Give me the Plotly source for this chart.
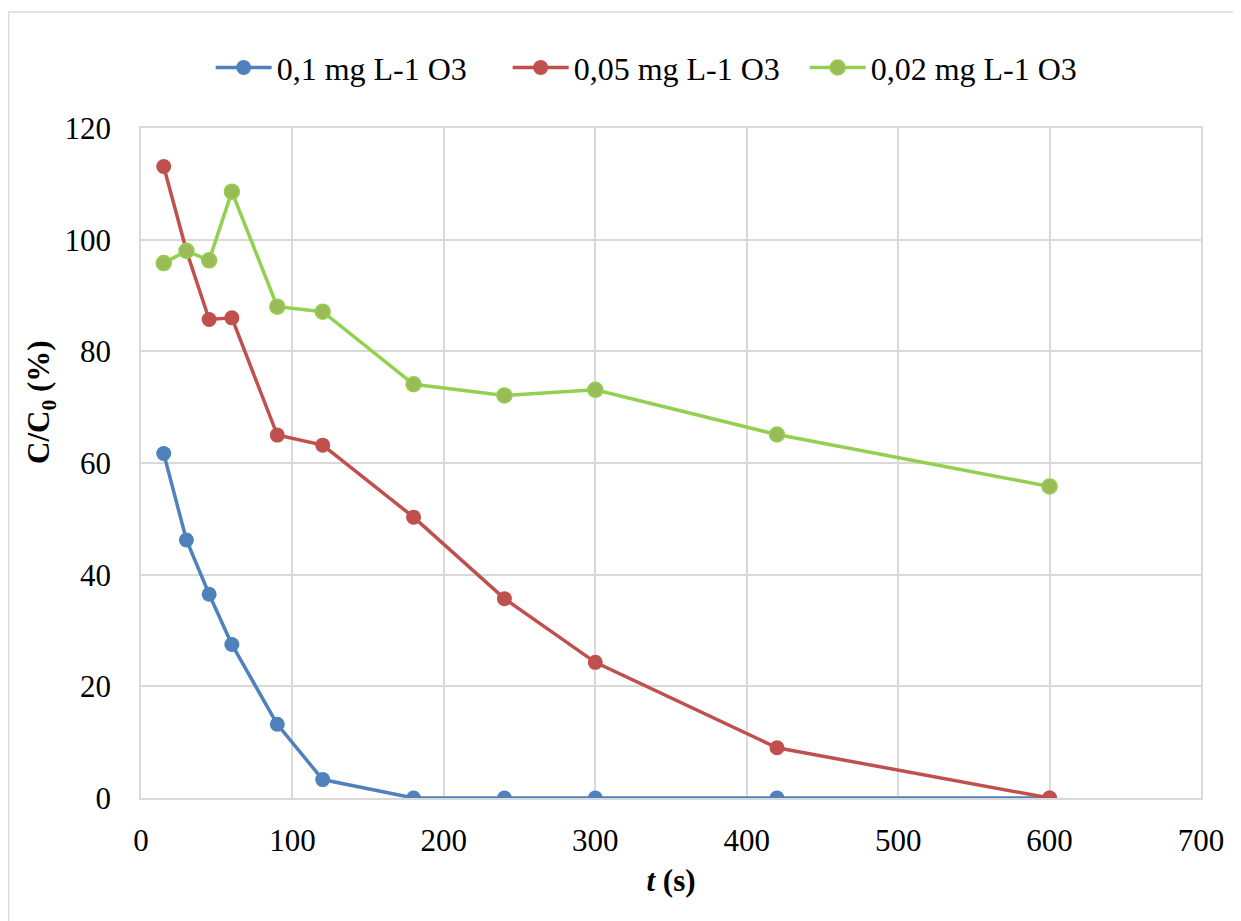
import plotly.graph_objects as go

t = [15, 30, 45, 60, 90, 120, 180, 240, 300, 420, 600]
c_01 = [61.7, 46.2, 36.5, 27.5, 13.2, 3.3, 0, 0, 0, 0, 0]
c_005 = [113.1, 98.0, 85.7, 86.0, 65.0, 63.2, 50.3, 35.7, 24.3, 9.0, 0]
c_002 = [95.8, 98.0, 96.3, 108.6, 88.0, 87.1, 74.1, 72.1, 73.1, 65.1, 55.8]
names = ["0,1 mg L-1 O3", "0,05 mg L-1 O3", "0,02 mg L-1 O3"]

FONT = "Liberation Serif, Times New Roman, serif"
FS = 31

fig = go.Figure()
fig.add_trace(go.Scatter(x=t, y=c_01, name=names[0], mode="lines+markers",
                         line=dict(color="#4F81BD", width=3.5),
                         marker=dict(color="#4F81BD", size=15)))
fig.add_trace(go.Scatter(x=t, y=c_005, name=names[1], mode="lines+markers",
                         line=dict(color="#C0504D", width=3.5),
                         marker=dict(color="#C0504D", size=15)))
fig.add_trace(go.Scatter(x=t, y=c_002, name=names[2], mode="lines+markers",
                         line=dict(color="#92D050", width=3.5),
                         marker=dict(color="#9BBB59", size=15,
                                     line=dict(color="#92D050", width=1.5))))

# page has an 8px body margin: plot area should land at page x 141..1201, y 128..798
fig.update_layout(
    width=1233, height=913,
    margin=dict(l=133, r=40, t=120, b=123),
    paper_bgcolor="white", plot_bgcolor="white",
    font=dict(family=FONT, size=FS, color="black"),
    showlegend=True,
    legend=dict(orientation="h", x=0.486, xanchor="center", y=1.09, yanchor="middle",
                font=dict(family=FONT, size=32, color="black"),
                itemwidth=56, entrywidth=226, entrywidthmode="pixels",
                tracegroupgap=0, itemclick=False),
    xaxis=dict(range=[0, 700], dtick=100, tick0=0, showgrid=True,
               gridcolor="#D9D9D9", gridwidth=1.5, zeroline=False,
               showline=True, linecolor="#D9D9D9", linewidth=1.5, mirror=True,
               ticks="", tickfont=dict(family=FONT, size=FS), ticklabelstandoff=14,
               title=dict(text="<b><i>t</i> (s)</b>", font=dict(family=FONT, size=FS), standoff=12)),
    yaxis=dict(range=[0, 120], dtick=20, tick0=0, showgrid=True,
               gridcolor="#D9D9D9", gridwidth=1.5, zeroline=False,
               showline=True, linecolor="#D9D9D9", linewidth=1.5, mirror=True,
               ticks="", tickfont=dict(family=FONT, size=FS), ticklabelstandoff=22),
    annotations=[
        dict(text="<b>C/C<sub>0</sub> (%)</b>", xref="paper", yref="paper",
             x=(41-141)/1060, y=(798-402)/670, xanchor="center", yanchor="middle",
             textangle=-90, showarrow=False, font=dict(family=FONT, size=FS)),
    ],
    shapes=[
        dict(type="line", xref="paper", yref="paper", x0=(8-141)/1060, x1=(1245-141)/1060,
             y0=(798-12)/670, y1=(798-12)/670, line=dict(color="#D9D9D9", width=1.5)),
        dict(type="line", xref="paper", yref="paper", x0=(8.5-141)/1060, x1=(8.5-141)/1060,
             y0=(798-12)/670, y1=(798-930)/670, line=dict(color="#D9D9D9", width=1.5)),
    ],
)

fig.write_html("out.html")
